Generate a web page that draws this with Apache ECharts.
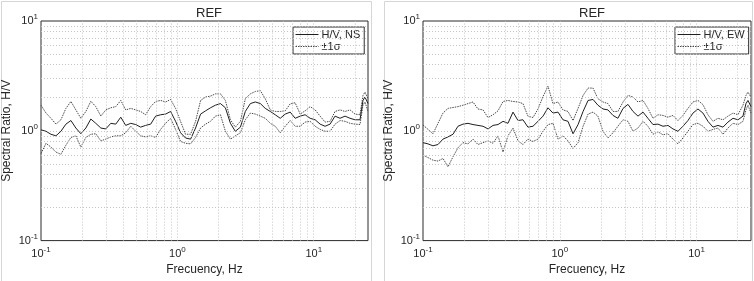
<!DOCTYPE html>
<html><head><meta charset="utf-8">
<script src="https://cdn.jsdelivr.net/npm/echarts@6/dist/echarts.min.js"></script>
<style>html,body{margin:0;padding:0;background:#fff}#c{width:754px;height:281px}</style>
</head><body><div id="c"></div>
<script>
// Frequencies (Hz)
const freqs = [0.1,0.1088,0.1183,0.1287,0.14,0.1523,0.1657,0.1802,0.196,0.2133,0.232,0.2523,0.2746,0.2987,0.3249,0.3535,0.3846,0.418,0.455,0.495,0.538,0.585,0.637,0.693,0.754,0.82,0.892,0.97,1.055,1.148,1.25,1.36,1.48,1.61,
1.75,1.9,2.07,2.25,2.45,2.66,2.9,3.15,3.43,3.73,4.06,4.41,4.8,5.22,5.68,6.18,6.72,7.31,7.95,8.65,9.41,10.24,11.14,12.11,13.18,14.33,15.6,16.96,18.46,20.08,21.84,22.97,23.75,25];

// NS component
const nsMean = [1.02,0.99,0.93,0.90,0.99,1.15,1.24,1.06,0.94,1.06,1.28,1.17,1.06,1.04,1.17,1.15,1.33,1.12,1.17,1.14,1.08,1.12,1.15,1.36,1.40,1.42,1.50,1.22,0.96,0.86,0.84,1.06,1.42,1.52,
1.62,1.71,1.77,1.62,1.17,0.99,1.08,1.50,1.77,1.83,1.77,1.60,1.50,1.40,1.30,1.42,1.48,1.30,1.36,1.40,1.30,1.26,1.15,1.10,1.15,1.36,1.30,1.36,1.30,1.26,1.26,1.89,2.03,1.77];
const nsUpper = [1.71,1.45,1.30,1.15,1.26,1.60,1.85,1.55,1.30,1.50,1.86,1.66,1.36,1.55,1.62,1.66,1.89,1.55,1.60,1.55,1.50,1.40,1.66,1.85,1.89,1.83,1.93,1.60,1.22,0.93,0.93,1.22,1.89,2.03,
2.07,2.17,2.17,1.89,1.26,1.08,1.22,1.96,2.17,2.28,2.32,1.96,1.55,1.50,1.50,1.52,1.76,1.80,1.42,1.52,1.66,1.55,1.36,1.20,1.22,1.50,1.55,1.50,1.55,1.42,1.40,2.10,2.25,1.96];
const nsLower = [0.62,0.77,0.71,0.64,0.61,0.74,0.87,0.90,0.71,0.87,0.93,0.94,0.81,0.84,0.88,0.90,0.90,0.96,1.10,0.99,0.90,0.88,0.90,0.87,1.03,1.17,1.30,1.03,0.80,0.77,0.76,0.87,1.06,1.15,
1.22,1.36,1.40,0.99,0.84,0.90,0.96,1.26,1.45,1.42,1.36,1.30,1.17,1.10,0.96,1.10,1.24,1.10,1.10,1.20,1.22,1.10,1.03,0.99,0.99,1.15,1.24,1.22,1.17,1.15,1.14,1.71,1.83,1.50];

// EW component
const ewMean = [0.78,0.76,0.73,0.75,0.84,0.88,0.93,1.10,1.15,1.17,1.14,1.12,1.10,1.04,1.12,1.14,1.22,1.17,1.48,1.24,1.26,1.08,1.10,1.22,1.36,1.62,1.45,1.48,1.26,1.22,0.94,1.14,1.50,1.89,
1.93,1.71,1.58,1.55,1.38,1.30,1.60,1.74,1.50,1.36,1.48,1.30,1.14,1.15,1.10,1.12,1.04,0.99,1.10,1.24,1.45,1.58,1.45,1.22,1.08,1.12,1.08,1.20,1.30,1.26,1.36,1.77,1.89,1.66];
const ewUpper = [1.13,1.03,0.94,1.17,1.45,1.60,1.63,1.66,1.71,1.77,1.83,1.58,1.55,1.32,1.40,1.52,1.85,1.89,1.85,1.83,1.77,1.36,1.32,1.58,2.05,2.55,1.77,1.83,1.55,1.50,1.24,1.60,2.10,2.45,
2.45,1.96,1.83,1.77,1.50,1.50,1.83,2.10,2.03,1.83,1.89,1.60,1.30,1.40,1.38,1.33,1.38,1.24,1.38,1.60,1.83,1.89,1.73,1.40,1.22,1.30,1.26,1.36,1.45,1.40,1.71,2.10,2.25,2.03];
const ewLower = [0.60,0.57,0.54,0.53,0.56,0.47,0.58,0.70,0.78,0.76,0.84,0.75,0.78,0.81,0.77,0.90,0.64,0.90,1.06,0.81,0.75,0.84,0.80,0.84,0.99,1.14,1.17,0.84,0.90,0.81,0.69,0.78,1.10,1.42,
1.48,1.36,0.99,0.86,0.96,1.10,1.26,1.22,0.99,1.06,1.22,1.10,0.93,0.98,0.92,0.94,0.84,0.76,0.86,0.99,1.14,1.17,1.10,0.99,1.03,1.06,0.93,1.06,1.17,1.14,1.22,1.55,1.71,1.45];

// Grid line positions (log axes)
const gridX = [0.2,0.3,0.4,0.5,0.6,0.7,0.8,0.9,1,2,3,4,5,6,7,8,9,10,20];
const gridY = [0.2,0.3,0.4,0.5,0.6,0.7,0.8,0.9,1,2,3,4,5,6,7,8,9];
const titles = ['REF','REF'];
const meanNames = ['H/V, NS','H/V, EW'];
const sigmaName = '\u00b11\u03c3';
const xName = 'Frecuency, Hz';
const yName = 'Spectral Ratio, H/V';

const FONT = '"Liberation Sans", Arial, Helvetica, sans-serif';
const TXT = '#262626';
const panels = [
  {mean: nsMean, up: nsUpper, lo: nsLower, left: 40, right: 386, legendLeft: 293},
  {mean: ewMean, up: ewUpper, lo: ewLower, left: 423, right: 3, legendLeft: 675}
];

function pairs(vals){ return freqs.map((f,i)=>[f, vals[i]]); }
function supLabel(v){
  const e = Math.log10(v), r = Math.round(e);
  if (Math.abs(e - r) > 1e-6) return '';
  return '{b|10}{s|' + r + '}';
}
const rich = {
  b: {fontSize: 11, color: TXT, fontFamily: FONT, lineHeight: 16},
  s: {fontSize: 8, color: TXT, fontFamily: FONT, verticalAlign: 'top', lineHeight: 16}
};

const option = {
  animation: false,
  backgroundColor: '#fff',
  title: panels.map((p,i)=>({
    text: titles[i], left: (i===0 ? (40+368)/2 : (423+751)/2), top: 2, textAlign: 'center',
    textStyle: {fontSize: 13, fontWeight: 'normal', color: TXT, fontFamily: FONT}
  })),
  grid: panels.map(p=>({left: p.left, right: p.right, top: 21, bottom: 33, show: true,
    borderColor: '#2b2b2b', borderWidth: 1, backgroundColor: 'transparent'})),
  legend: panels.map((p,i)=>({
    left: p.legendLeft, top: 27, orient: 'vertical', itemGap: 1, itemWidth: 23, itemHeight: 10,
    padding: [2,4,2,2], borderColor: '#2b2b2b', borderWidth: 1, backgroundColor: '#fff',
    data: [meanNames[i], sigmaName], selectedMode: false,
    itemStyle: {opacity: 0, borderWidth: 0},
    lineStyle: {width: 1},
    textStyle: {fontSize: 11, color: TXT, fontFamily: FONT, padding: [0,0,0,-2]}
  })),
  xAxis: panels.map((p,i)=>({
    type: 'log', logBase: 10, min: 0.1, max: 25, gridIndex: i,
    name: xName, nameLocation: 'middle', nameGap: 23,
    nameTextStyle: {fontSize: 12, color: TXT, fontFamily: FONT},
    axisLine: {show: false}, axisTick: {show: false}, splitLine: {show: false},
    axisLabel: {formatter: supLabel, rich: rich, margin: 5, showMaxLabel: false}
  })),
  yAxis: panels.map((p,i)=>({
    type: 'log', logBase: 10, min: 0.1, max: 10, gridIndex: i,
    name: yName, nameLocation: 'middle', nameGap: 28,
    nameTextStyle: {fontSize: 12, color: TXT, fontFamily: FONT},
    axisLine: {show: false}, axisTick: {show: false}, splitLine: {show: false},
    axisLabel: {formatter: supLabel, rich: rich, margin: 3}
  })),
  graphic: [
    {type: 'rect', silent: true, shape: {x: 1.5, y: 1.5, width: 370, height: 300}, style: {fill: null, stroke: '#d6d6d6', lineWidth: 1}},
    {type: 'rect', silent: true, shape: {x: 384.5, y: 1.5, width: 368, height: 300}, style: {fill: null, stroke: '#d6d6d6', lineWidth: 1}}
  ],
  series: []
};

panels.forEach((p,i)=>{
  option.series.push({
    type: 'line', name: 'grid' + i, xAxisIndex: i, yAxisIndex: i, data: [], z: 1, silent: true,
    markLine: {
      silent: true, symbol: ['none','none'], animation: false, label: {show: false},
      lineStyle: {color: '#c4c4c4', type: [1,2], width: 1},
      emphasis: {disabled: true},
      data: gridX.map(v=>({xAxis: v})).concat(gridY.map(v=>({yAxis: v})))
    }
  });
  option.series.push({
    type: 'line', name: sigmaName, xAxisIndex: i, yAxisIndex: i, data: pairs(p.up), z: 3,
    symbol: 'none', lineStyle: {color: '#4a4a4a', width: 1, type: [1.5,1]}, itemStyle: {color: '#4a4a4a'}
  });
  option.series.push({
    type: 'line', name: sigmaName, xAxisIndex: i, yAxisIndex: i, data: pairs(p.lo), z: 3,
    symbol: 'none', lineStyle: {color: '#4a4a4a', width: 1, type: [1.5,1]}, itemStyle: {color: '#4a4a4a'}
  });
  option.series.push({
    type: 'line', name: meanNames[i], xAxisIndex: i, yAxisIndex: i, data: pairs(p.mean), z: 4,
    symbol: 'none', lineStyle: {color: '#1f1f1f', width: 1}, itemStyle: {color: '#1f1f1f'}
  });
});

const chart = echarts.init(document.getElementById('c'), null, {renderer: 'canvas'});
chart.setOption(option);
</script>
</body></html>
